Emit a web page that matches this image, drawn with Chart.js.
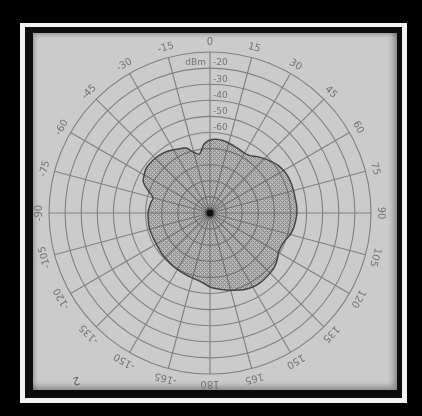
<!DOCTYPE html>
<html>
<head>
<meta charset="utf-8">
<script src="https://cdn.jsdelivr.net/npm/chart.js@4/dist/chart.umd.min.js"></script>
<style>
  html, body { margin: 0; padding: 0; background: #000; }
  #wrap { position: relative; width: 422px; height: 416px; background: #000; overflow: hidden; }
  #frame { position: absolute; left: 20px; top: 23px; width: 387px; height: 380px; background: #f2f2f2; }
  #band { position: absolute; left: 25px; top: 27px; width: 377px; height: 371px; background: #0c0c0c; }
  #paper { position: absolute; left: 33px; top: 33px; width: 364px; height: 357px; background: #cbcbcb;
           box-shadow: inset -3px -3px 6px rgba(0,0,0,0.35), inset 2px 2px 4px rgba(0,0,0,0.2); }
  #chart { position: absolute; left: 0; top: 0; }
</style>
</head>
<body>
<div id="wrap">
  <div id="frame"></div>
  <div id="band"></div>
  <div id="paper"></div>
  <canvas id="chart" width="422" height="416"></canvas>
</div>
<script>
// Bearing of each measurement, degrees clockwise from 0 (top)
const bearings = [
  0, 5, 10, 15, 20, 25, 30, 35, 40, 45, 50, 55,
  60, 65, 70, 75, 80, 85, 90, 95, 100, 105, 110, 115,
  120, 125, 130, 135, 140, 145, 150, 155, 160, 165, 170, 175,
  180, 185, 190, 195, 200, 205, 210, 215, 220, 225, 230, 235,
  240, 245, 250, 255, 260, 265, 270, 275, 280, 285, 290, 295,
  300, 305, 310, 315, 320, 325, 330, 335, 340, 345, 350, 355
];

// Received level at each bearing, dBm
const levelDbm = [
  -64.7, -64.0, -64.3, -65.0, -65.9, -66.5, -67.1, -66.5, -64.3, -62.2, -60.3, -58.4,
  -57.2, -56.5, -56.3, -56.3, -56.3, -56.0, -56.0, -56.6, -57.2, -58.4, -60.3, -61.2,
  -60.9, -59.1, -57.8, -57.2, -56.9, -56.6, -56.9, -57.8, -59.1, -60.3, -61.6, -62.8,
  -64.0, -66.2, -67.5, -68.1, -68.7, -69.1, -69.6, -69.9, -70.3, -70.6, -70.9, -71.3,
  -71.5, -71.5, -71.4, -71.2, -71.3, -71.5, -71.5, -72.1, -72.7, -73.4, -69.0, -64.3,
  -62.8, -61.6, -61.6, -61.9, -62.5, -63.4, -64.7, -65.9, -67.1, -70.9, -72.7, -67.1
];

// Printed ring values along the 0 line
const ringValues = [-20, -30, -40, -50, -60];

// Printed bearing marks every 15 degrees
const bearingTicks = [
  '0', '15', '30', '45', '60', '75', '90', '105', '120', '135', '150', '165',
  '180', '-165', '-150', '-135', '-120', '-105', '-90', '-75', '-60', '-45', '-30', '-15'
];

const INK = '#747474';
const GRID = '#808080';

// fine cross-hatch used for the measured area
function crossHatch(ctx) {
  const t = document.createElement('canvas');
  t.width = 4; t.height = 4;
  const g = t.getContext('2d');
  g.fillStyle = 'rgba(90,90,90,0.16)';
  g.fillRect(0, 0, 4, 4);
  g.fillStyle = 'rgba(55,55,55,0.36)';
  for (let x = 0; x < 4; x++) {
    for (let y = 0; y < 4; y++) {
      if ((x + y) % 4 === 0 || (x - y + 4) % 4 === 0) g.fillRect(x, y, 1, 1);
    }
  }
  return ctx.createPattern(t, 'repeat');
}

const paperText = {
  id: 'paperText',
  beforeDatasetsDraw(chart) {
    const s = chart.scales.r;
    const ctx = chart.ctx;
    ctx.save();
    ctx.fillStyle = INK;
    ctx.font = '9px "DejaVu Sans", sans-serif';
    ctx.textBaseline = 'middle';

    // ring values just above each ring, right of the 0 line
    ctx.textAlign = 'left';
    ringValues.forEach(v => {
      const y = s.yCenter - s.getDistanceFromCenterForValue(v) - 5;
      ctx.fillText(String(v), s.xCenter + 3, y);
    });
    ctx.textAlign = 'right';
    ctx.fillText('dBm', s.xCenter - 4, s.yCenter - s.getDistanceFromCenterForValue(ringValues[0]) - 5);

    // bearing marks outside the outer ring, turned with the bearing
    ctx.textAlign = 'center';
    ctx.font = '10px "DejaVu Sans", sans-serif';
    bearingTicks.forEach((t, k) => {
      const idx = bearings.indexOf(k * 15);
      const p = s.getPointPosition(idx, s.drawingArea + 10);
      ctx.save();
      ctx.translate(p.x, p.y);
      ctx.rotate(p.angle + Math.PI / 2);
      ctx.fillText(t, 0, 0);
      ctx.restore();
    });

    // pencil mark in the lower left corner
    ctx.save();
    ctx.translate(76, 380);
    ctx.rotate(2.9);
    ctx.font = '11px "DejaVu Sans", sans-serif';
    ctx.fillStyle = '#5a5a5a';
    ctx.fillText('2', 0, 0);
    ctx.restore();
    ctx.restore();
  },
  afterDatasetsDraw(chart) {
    const s = chart.scales.r;
    const ctx = chart.ctx;
    ctx.save();
    ctx.fillStyle = 'rgba(20,20,20,0.3)';
    ctx.beginPath();
    ctx.arc(s.xCenter, s.yCenter, 5.5, 0, Math.PI * 2);
    ctx.fill();
    ctx.fillStyle = '#111';
    ctx.beginPath();
    ctx.arc(s.xCenter, s.yCenter, 3.5, 0, Math.PI * 2);
    ctx.fill();
    ctx.restore();
  }
};

const canvas = document.getElementById('chart');
const ctx = canvas.getContext('2d');

new Chart(ctx, {
  type: 'radar',
  data: {
    labels: bearings,
    datasets: [{
      data: levelDbm,
      fill: 'start',
      backgroundColor: crossHatch(ctx),
      borderColor: '#454545',
      borderWidth: 1.5,
      pointRadius: 0,
      tension: 0.35
    }]
  },
  options: {
    responsive: false,
    animation: false,
    devicePixelRatio: 1,
    layout: { padding: { left: 49, top: 52, right: 51, bottom: 42 } },
    plugins: { legend: { display: false }, tooltip: { enabled: false } },
    scales: {
      r: {
        min: -110,
        max: -10,
        ticks: { stepSize: 10, display: false },
        pointLabels: { display: false },
        grid: { circular: true, color: GRID, lineWidth: 1.1 },
        angleLines: {
          display: true,
          color: c => (bearings[c.index] % 15 === 0 ? GRID : 'rgba(0,0,0,0)'),
          lineWidth: c => (bearings[c.index] % 15 === 0 ? 1.1 : 0)
        }
      }
    }
  },
  plugins: [paperText]
});
</script>
</body>
</html>
